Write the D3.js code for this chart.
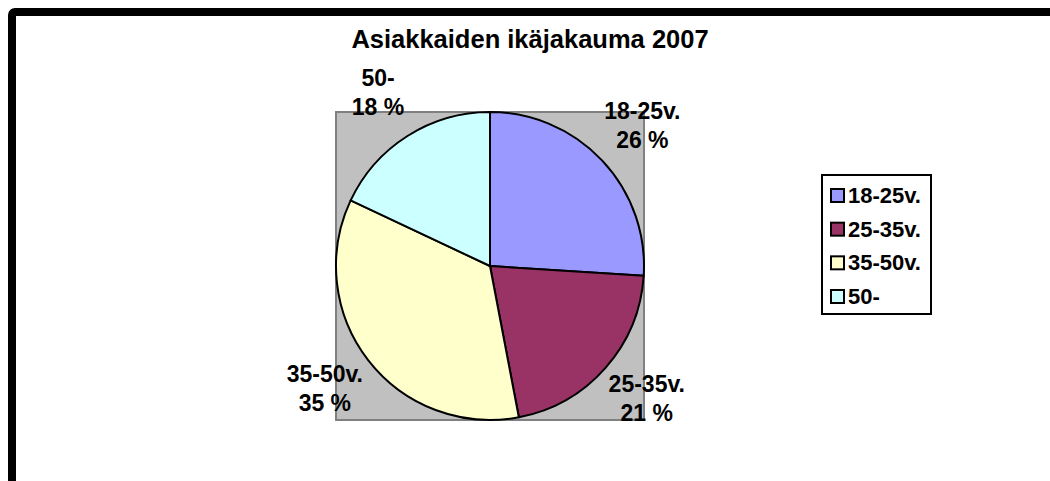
<!DOCTYPE html>
<html lang="fi">
<head>
    <meta charset="UTF-8">
    <title>Asiakkaiden ikäjakauma 2007</title>
    <script src="https://cdn.jsdelivr.net/npm/d3@7"></script>
    <style>
        body{
            margin: 0;
            background: #ffffff;
        }
        #chart{
            display: block;
        }
        text{
            font-family: "Liberation Sans", Arial, sans-serif;
            font-weight: bold;
            fill: #000;
        }
    </style>
</head>
<body>
<svg id="chart"></svg>
<script>

    // data
    const title = "Asiakkaiden ikäjakauma 2007"
    const categories = ["18-25v.", "25-35v.", "35-50v.", "50-"]
    const shares = [26, 21, 35, 18]
    const colors = ["#9999ff", "#993366", "#ffffcc", "#ccffff"]

    const svgSize = {width: 1050, height: 481}
    const pieCenter = {x: 490, y: 266}
    const radius = 154
    const labelRadius = 209
    const labelSquash = 203 / 209   // labels sit a bit closer vertically

    const svg = d3.select("#chart")
        .attr("width", svgSize.width)
        .attr("height", svgSize.height)
        .attr("viewBox", [0, 0, svgSize.width, svgSize.height])

    // outer frame, right and bottom run off the picture
    svg.append("rect")
        .attr("x", 12)
        .attr("y", 12)
        .attr("width", 1100)
        .attr("height", 600)
        .attr("rx", 3)
        .attr("fill", "#fff")
        .attr("stroke", "#000")
        .attr("stroke-width", 8)

    svg.append("text")
        .attr("x", 530)
        .attr("y", 48)
        .attr("text-anchor", "middle")
        .style("font-size", "25.5px")
        .text(title)

    const data = categories.map((c, i) => ({cat: c, value: shares[i], color: colors[i]}))

    // plot area = pie bounding box
    svg.append("rect")
        .attr("x", pieCenter.x - radius)
        .attr("y", pieCenter.y - radius)
        .attr("width", radius * 2)
        .attr("height", radius * 2)
        .attr("fill", "#c0c0c0")
        .attr("stroke", "#808080")
        .attr("stroke-width", 2)

    const pie = d3.pie().sort(null).value(d => d.value)
    const arcs = pie(data)
    const arc = d3.arc().innerRadius(0).outerRadius(radius)
    const labelArc = d3.arc().innerRadius(labelRadius).outerRadius(labelRadius)

    const pieG = svg.append("g")
        .attr("transform", `translate(${pieCenter.x},${pieCenter.y})`)

    pieG.selectAll(".slice")
        .data(arcs)
        .enter()
        .append("path")
        .attr("class", "slice")
        .attr("d", arc)
        .attr("fill", d => d.data.color)
        .attr("stroke", "#000")
        .attr("stroke-width", 2)
        .attr("stroke-linejoin", "round")

    const labels = pieG.selectAll(".lbl")
        .data(arcs)
        .enter()
        .append("text")
        .attr("class", "lbl")
        .attr("text-anchor", "middle")
        .style("font-size", "23px")
        .attr("transform", d => {
            const c = labelArc.centroid(d)
            return `translate(${c[0]},${c[1] * labelSquash - 2})`
        })
    labels.append("tspan")
        .attr("x", 0)
        .attr("y", -6.5)
        .text(d => d.data.cat)
    labels.append("tspan")
        .attr("x", 0)
        .attr("y", 22.5)
        .text(d => d.data.value + " %")

    // legend
    const legendBox = {x: 822, y: 175, width: 109, height: 139}
    svg.append("rect")
        .attr("x", legendBox.x)
        .attr("y", legendBox.y)
        .attr("width", legendBox.width)
        .attr("height", legendBox.height)
        .attr("fill", "#fff")
        .attr("stroke", "#000")
        .attr("stroke-width", 2)

    const rowY = d3.scalePoint()
        .domain(categories)
        .range([legendBox.y + 20.5, legendBox.y + 121.5])

    const rows = svg.selectAll(".legendRow")
        .data(data)
        .enter()
        .append("g")
        .attr("class", "legendRow")
        .attr("transform", d => `translate(${legendBox.x},${rowY(d.cat)})`)

    rows.append("rect")
        .attr("x", 9)
        .attr("y", -6.5)
        .attr("width", 13)
        .attr("height", 13)
        .attr("fill", d => d.color)
        .attr("stroke", "#000")
        .attr("stroke-width", 2)

    rows.append("text")
        .attr("x", 26)
        .attr("y", 7.5)
        .style("font-size", "22px")
        .text(d => d.cat)

</script>
</body>
</html>
